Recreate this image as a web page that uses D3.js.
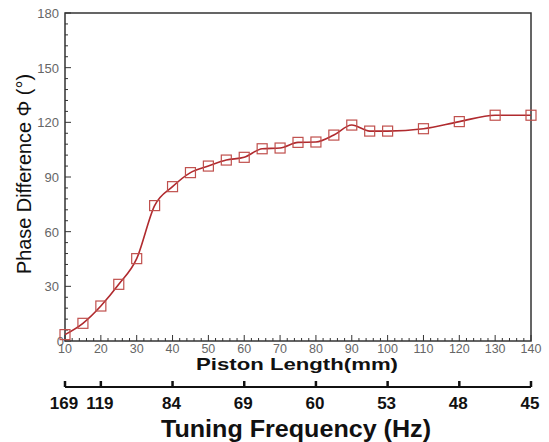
<html>
<head>
<title>Phase Difference vs Piston Length</title>
<script src="https://d3js.org/d3.v7.min.js"></script>
<style>
  body { margin: 0; background: #fff; }
  text { font-family: Arial, "Liberation Sans", sans-serif; }
</style>
</head>
<body>
<svg width="549" height="442"></svg>
<script>
// piston length (mm) and measured phase difference (deg)
var pistonLength = [10, 15, 20, 25, 30, 35, 40, 45, 50, 55, 60, 65, 70, 75, 80, 85, 90, 95, 100, 110, 120, 130, 140];
var phaseDiff = [3.5, 9.7, 19.2, 31.1, 45.2, 74.3, 84.7, 92.4, 96, 99.3, 100.8, 105.5, 105.9, 109, 109.2, 113, 118.5, 115.2, 115.2, 116.5, 120.4, 123.9, 123.9];

var xTicks = [10, 20, 30, 40, 50, 60, 70, 80, 90, 100, 110, 120, 130, 140];
var yTicks = [0, 30, 60, 90, 120, 150, 180];
// second axis: tuning frequency at given piston lengths
var freqAt = [10, 20, 40, 60, 80, 100, 120, 140];
var freqLabels = ["169", "119", "84", "69", "60", "53", "48", "45"];

var svg = d3.select("svg"),
    pLeft = 65, pRight = 531, pTop = 13, pBottom = 341;

var x = d3.scaleLinear().domain([10, 140]).range([pLeft, pRight]);
var y = d3.scaleLinear().domain([0, 180]).range([pBottom, pTop]);

var data = pistonLength.map(function(d, i) { return { x: d, y: phaseDiff[i] }; });

// frame
svg.append("rect")
    .attr("x", pLeft).attr("y", pTop)
    .attr("width", pRight - pLeft).attr("height", pBottom - pTop)
    .attr("fill", "none").attr("stroke", "#333").attr("stroke-width", 1.5);

// x axis (ticks inward)
var xAxis = svg.append("g").attr("transform", "translate(0," + pBottom + ")");
xAxis.selectAll(".minor")
    .data(d3.range(10, 141, 2))
    .enter().append("line")
    .attr("x1", d => x(d)).attr("x2", d => x(d))
    .attr("y1", 0).attr("y2", d => (d % 10 === 0 ? -6 : -3))
    .attr("stroke", "#333").attr("stroke-width", 1);
xAxis.selectAll(".lab")
    .data(xTicks)
    .enter().append("text")
    .attr("x", d => x(d)).attr("y", 12)
    .attr("text-anchor", "middle")
    .attr("font-size", 12.5).attr("fill", "#666")
    .text(d => d);

// y axis
var yAxis = svg.append("g").attr("transform", "translate(" + pLeft + ",0)");
yAxis.selectAll(".minor")
    .data(d3.range(0, 181, 6))
    .enter().append("line")
    .attr("y1", d => y(d)).attr("y2", d => y(d))
    .attr("x1", 0).attr("x2", d => (d % 30 === 0 ? 6 : 3))
    .attr("stroke", "#333").attr("stroke-width", 1);
yAxis.selectAll(".lab")
    .data(yTicks)
    .enter().append("text")
    .attr("x", d => (d === 0 ? -1 : -6)).attr("y", d => y(d) + 5)
    .attr("text-anchor", "end")
    .attr("font-size", 13).attr("fill", "#666")
    .text(d => d);

// curve
var line = d3.line()
    .x(d => x(d.x)).y(d => y(d.y))
    .curve(d3.curveMonotoneX);

svg.append("path")
    .datum(data)
    .attr("d", line)
    .attr("fill", "none").attr("stroke", "#b02a2e").attr("stroke-width", 1.6);

svg.selectAll(".pt")
    .data(data)
    .enter().append("rect")
    .attr("class", "pt")
    .attr("x", d => x(d.x) - 5).attr("y", d => y(d.y) - 5)
    .attr("width", 10).attr("height", 10)
    .attr("fill", "none").attr("stroke", "#c0504d").attr("stroke-width", 1.2);

// axis titles
svg.append("text")
    .attr("x", 297).attr("y", 370)
    .attr("text-anchor", "middle")
    .attr("font-size", 17).attr("font-weight", "bold").attr("fill", "#111")
    .attr("textLength", 202).attr("lengthAdjust", "spacingAndGlyphs")
    .text("Piston Length(mm)");

svg.append("text")
    .attr("transform", "translate(31,174) rotate(-90)")
    .attr("text-anchor", "middle")
    .attr("font-size", 21).attr("fill", "#111")
    .attr("textLength", 200).attr("lengthAdjust", "spacingAndGlyphs")
    .text("Phase Difference \u03a6 (\u00b0)");

// tuning frequency axis
var fy = 387;
var fAxis = svg.append("g");
fAxis.append("line")
    .attr("x1", pLeft).attr("x2", pRight).attr("y1", fy).attr("y2", fy)
    .attr("stroke", "#111").attr("stroke-width", 2);
fAxis.selectAll(".ft")
    .data(freqAt)
    .enter().append("line")
    .attr("x1", d => x(d)).attr("x2", d => x(d))
    .attr("y1", fy).attr("y2", fy - 6)
    .attr("stroke", "#111").attr("stroke-width", 2.5);
fAxis.selectAll(".fl")
    .data(freqAt)
    .enter().append("text")
    .attr("x", d => x(d) - 1).attr("y", fy + 22)
    .attr("text-anchor", "middle")
    .attr("font-size", 17).attr("font-weight", "bold").attr("fill", "#111")
    .text((d, i) => freqLabels[i]);

svg.append("text")
    .attr("x", 296).attr("y", 437)
    .attr("text-anchor", "middle")
    .attr("font-size", 24).attr("font-weight", "bold").attr("fill", "#111")
    .attr("textLength", 270).attr("lengthAdjust", "spacingAndGlyphs")
    .text("Tuning Frequency (Hz)");
</script>
</body>
</html>
